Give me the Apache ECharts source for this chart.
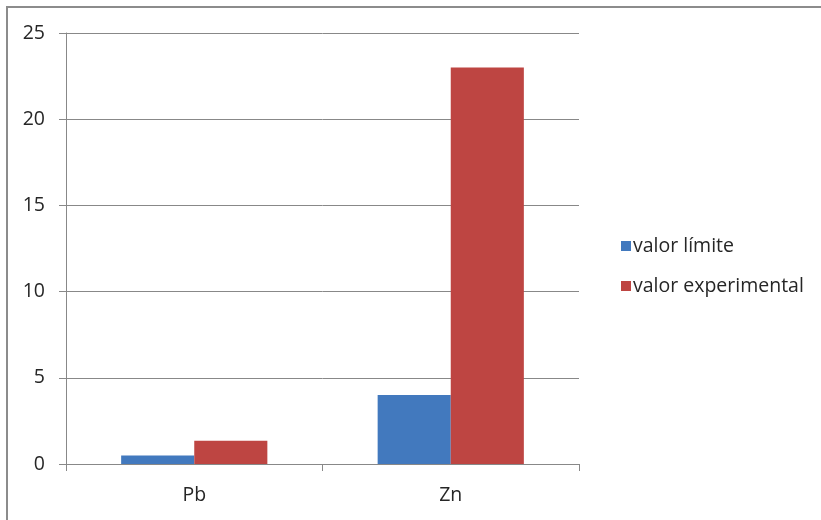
<!DOCTYPE html>
<html>
<head>
<meta charset="utf-8">
<script src="https://cdn.jsdelivr.net/npm/echarts@6/dist/echarts.min.js"></script>
<style>
  html, body { margin: 0; padding: 0; background: #fff; }
  #chart { width: 821px; height: 520px; }
</style>
</head>
<body>
<div id="chart"></div>
<script>
// Metals and their measured vs. limit values
const categories = ['Pb', 'Zn'];
const seriesNames = ['valor límite', 'valor experimental'];
const limitValues = [0.5, 4];
const experimentalValues = [1.35, 23];
const yTicks = { min: 0, max: 25, interval: 5 };

const FONT = 'Open Sans';
const TEXT = '#262626';
const LINE = '#888888';

const chart = echarts.init(document.getElementById('chart'), null, { renderer: 'canvas' });

chart.setOption({
  animation: false,
  backgroundColor: '#ffffff',
  textStyle: { fontFamily: FONT },
  // frame of the chart area: only its top and left edges fall inside the view
  graphic: [
    {
      type: 'line',
      shape: { x1: 7, y1: 7, x2: 821, y2: 7 },
      style: { stroke: '#8c8c8c', lineWidth: 2 },
      silent: true
    },
    {
      type: 'line',
      shape: { x1: 7, y1: 6, x2: 7, y2: 520 },
      style: { stroke: '#8c8c8c', lineWidth: 2 },
      silent: true
    }
  ],
  grid: { left: 66, right: 242, top: 33, bottom: 56, containLabel: false },
  legend: {
    orient: 'vertical',
    left: 616,
    top: 231,
    itemWidth: 10,
    itemHeight: 10,
    itemGap: 20,
    icon: 'rect',
    textStyle: { fontFamily: FONT, fontSize: 19.5, color: TEXT, padding: [0, 0, 0, -3] },
    data: seriesNames
  },
  xAxis: {
    type: 'category',
    data: categories,
    axisLine: { lineStyle: { color: LINE, width: 1 } },
    axisTick: { show: true, inside: false, length: 7, lineStyle: { color: LINE } },
    axisLabel: { fontFamily: FONT, fontSize: 19.5, color: TEXT, margin: 21 },
    splitLine: { show: false }
  },
  yAxis: {
    type: 'value',
    min: yTicks.min,
    max: yTicks.max,
    interval: yTicks.interval,
    axisLine: { show: true, lineStyle: { color: LINE, width: 1 } },
    axisTick: { show: true, inside: false, length: 7, lineStyle: { color: LINE } },
    axisLabel: { fontFamily: FONT, fontSize: 19.5, color: TEXT, margin: 21 },
    splitLine: { show: true, lineStyle: { color: LINE, width: 1 } }
  },
  series: [
    {
      name: seriesNames[0],
      type: 'bar',
      data: limitValues,
      barWidth: '28.5%',
      barGap: '0%',
      itemStyle: { color: '#4279BE' }
    },
    {
      name: seriesNames[1],
      type: 'bar',
      data: experimentalValues,
      barWidth: '28.5%',
      barGap: '0%',
      itemStyle: { color: '#BE4542' }
    }
  ]
});
</script>
</body>
</html>
